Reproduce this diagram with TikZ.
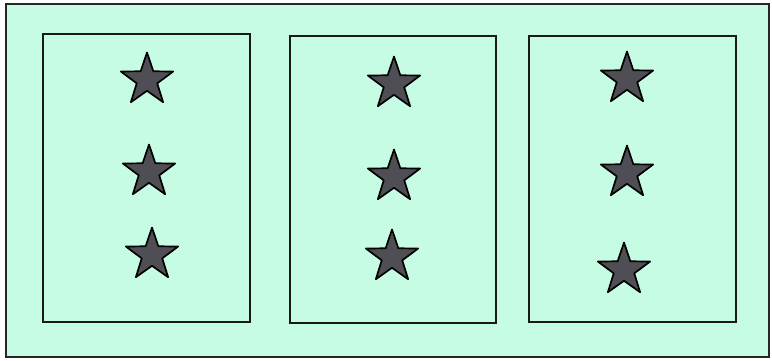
\documentclass[tikz,border=0pt]{standalone}
\usepackage{tikz}
\usetikzlibrary{shapes.geometric}

\definecolor{mint}{RGB}{198,252,228}
\definecolor{stargray}{RGB}{78,78,84}

\begin{document}
\begin{tikzpicture}[x=1pt, y=-1pt,
  frame/.style={draw=black!85, fill=mint, line width=2.4pt},
  panel/.style={draw=black!90, line width=2.2pt},
  starmark/.style={star, star points=5, star point ratio=2.55, minimum size=55pt,
    inner sep=0pt, draw=black, fill=stargray, line width=1.7pt, line join=round},
]
\useasboundingbox (0,0) rectangle (772,360);

% ======================= Outer frame ================================
\draw[frame] (6,4) rectangle (769,357);

% ======================= Panels =====================================
\draw[panel] (43,34) rectangle (250,322);
\draw[panel] (290,36) rectangle (496,323);
\draw[panel] (529,36) rectangle (736,322);

% ======================= Stars ======================================
\node[starmark] (s11) at (147,80) {};
\node[starmark] (s12) at (149,172) {};
\node[starmark] (s13) at (152,255) {};

\node[starmark] (s21) at (394,84) {};
\node[starmark] (s22) at (394,177) {};
\node[starmark] (s23) at (392,257) {};

\node[starmark] (s31) at (627,79) {};
\node[starmark] (s32) at (627,173) {};
\node[starmark] (s33) at (624,270) {};

\end{tikzpicture}
\end{document}
